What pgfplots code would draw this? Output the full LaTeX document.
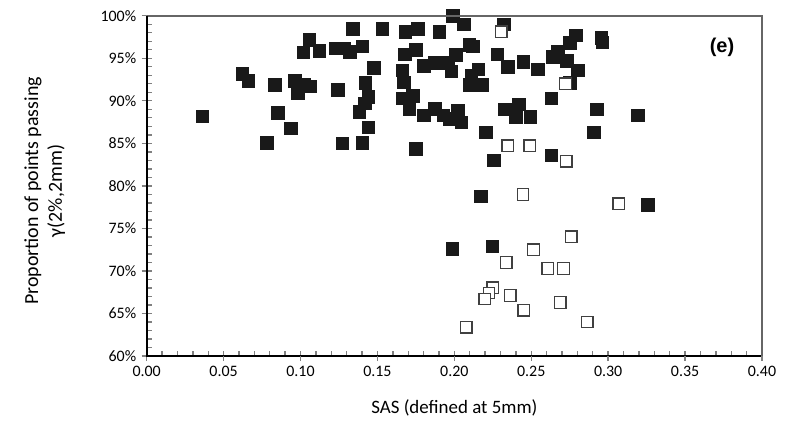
\documentclass[border=0pt]{standalone}
\usepackage{pgfplots}
\pgfplotsset{compat=1.18}
\usepackage{fontspec}
\setmainfont{Carlito}
\newfontfamily\arialfont{Liberation Sans}

\begin{document}
\begin{tikzpicture}
\path (-146.7bp,-72bp) rectangle (639.3bp,356bp);
\begin{axis}[
    at={(0,0)}, anchor=south west,
    scale only axis,
    width=615.3bp, height=340.3bp,
    xmin=0, xmax=0.4, ymin=60, ymax=100,
    axis x line=bottom, axis y line=left,
    axis line style={-, line width=2bp},
    xtick={0,0.05,...,0.4},
    ytick={60,65,...,100},
    minor x tick num=4, minor y tick num=4,
    tick align=inside,
    major tick length=5bp, minor tick length=5bp,
    tick style={line width=1.4bp},
    extra x ticks={0,0.05,...,0.4},
    extra y ticks={60,65,...,100},
    extra tick style={tick align=outside, major tick length=5bp},
    extra x tick labels={},
    extra y tick labels={},
    /pgf/number format/assume math mode=true,
    xticklabel style={/pgf/number format/fixed, /pgf/number format/fixed zerofill,
        /pgf/number format/precision=2, yshift=-7bp},
    yticklabel={\pgfmathprintnumber{\tick}\%},
    ticklabel style={font=\fontsize{16}{18}\selectfont},
    yticklabel style={xshift=-7bp},
    xlabel={SAS (defined at 5mm)},
    ylabel={Proportion of points passing\\γ(2\%,2mm)},
    every axis x label/.style={at={(rel axis cs:0.5,0)}, anchor=center, yshift=-52bp,
        font=\fontsize{19}{21}\selectfont},
    every axis y label/.style={at={(rel axis cs:0,0.485)}, xshift=-102bp, anchor=center,
        rotate=90, align=center, font=\fontsize{20}{24}\selectfont},
    clip=false,
]
% filled squares
\addplot[only marks, mark=square*, mark size=6.3bp, mark options={fill=black!90, draw=black!90, line width=0.3bp}] coordinates {
(0.036,88.2) (0.062,93.2) (0.066,92.4) (0.078,85.1) (0.083,91.9) (0.085,88.6)
(0.0935,86.8) (0.096,92.4) (0.098,90.9) (0.102,91.9) (0.106,91.7) (0.1056,97.2)
(0.1016,95.7) (0.112,95.9) (0.124,91.3) (0.123,96.2) (0.128,96.2) (0.132,95.8)
(0.140,96.4) (0.134,98.5) (0.127,85.0) (0.140,85.1) (0.144,86.9) (0.138,88.7)
(0.1418,89.7) (0.144,90.5) (0.142,92.1) (0.1476,93.9) (0.153,98.5) (0.168,98.1)
(0.176,98.5) (0.190,98.1) (0.199,100.0) (0.206,99.0) (0.232,99.0) (0.1677,95.5)
(0.175,96.0) (0.166,93.6) (0.167,92.2) (0.180,94.1) (0.187,94.5) (0.196,94.5)
(0.201,95.4) (0.198,93.5) (0.2095,96.6) (0.212,96.4) (0.2155,93.7) (0.211,93.0)
(0.210,91.9) (0.218,91.9) (0.1662,90.3) (0.173,90.6) (0.1705,89.1) (0.180,88.3)
(0.187,89.1) (0.1926,88.3) (0.2023,88.9) (0.2045,87.5) (0.197,87.9) (0.2203,86.3)
(0.175,84.4) (0.2255,83.0) (0.217,78.8) (0.2277,95.5) (0.2348,94.0) (0.2446,94.6)
(0.254,93.7) (0.264,95.2) (0.267,95.8) (0.275,96.8) (0.279,97.7) (0.273,94.7)
(0.280,93.6) (0.2749,92.1) (0.2955,97.4) (0.296,96.9) (0.263,90.3) (0.2327,89.0)
(0.2418,89.6) (0.2398,88.1) (0.2493,88.1) (0.2926,89.0) (0.319,88.3) (0.2907,86.3)
(0.263,83.6) (0.3257,77.8) (0.1985,72.6) (0.2247,72.9)
};
% hollow squares
\addplot[only marks, mark=square*, mark size=5.8bp, mark options={fill=white, draw=black!75, line width=1.3bp}] coordinates {
(0.2305,98.1) (0.2723,92.0) (0.2348,84.7) (0.249,84.7) (0.2727,82.9) (0.2446,79.0)
(0.307,77.9) (0.276,74.0) (0.2515,72.5) (0.2338,71.0) (0.2608,70.3) (0.271,70.3)
(0.225,68.0) (0.2225,67.4) (0.2197,66.7) (0.2364,67.1) (0.2452,65.4) (0.2688,66.3)
(0.2078,63.4) (0.2864,64.0)
};
\node[font=\arialfont\bfseries\fontsize{20}{22}\selectfont] at (axis cs:0.374,96.3) {(e)};
\end{axis}
\draw[black!60, line width=1.8bp] (0,340.3bp) -- (615.3bp,340.3bp) -- (615.3bp,0);
\draw[black, line width=2bp] (0,-1bp) -- (0,340.3bp);
\end{tikzpicture}
\end{document}
